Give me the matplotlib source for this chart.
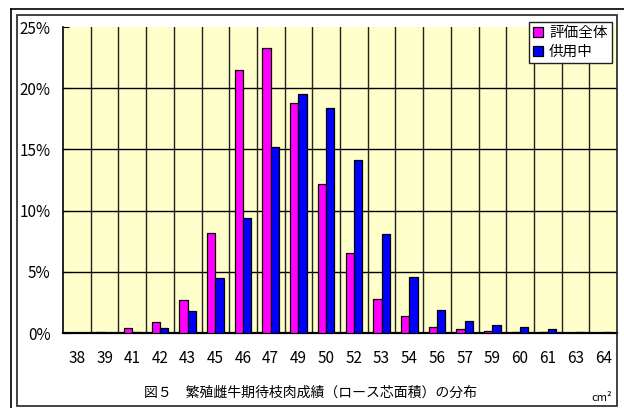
import numpy as np
import matplotlib
matplotlib.use("Agg")
import matplotlib.pyplot as plt
from matplotlib.patches import Rectangle
from matplotlib.lines import Line2D

plt.rcParams['font.family'] = ['Noto Sans CJK JP', 'DejaVu Sans']

# categories (rib-eye area, cm2) and shares (%)
categories = ["38", "39", "41", "42", "43", "45", "46", "47", "49", "50",
              "52", "53", "54", "56", "57", "59", "60", "61", "63", "64"]
all_evaluated = [0.0, 0.1, 0.4, 0.9, 2.7, 8.2, 21.5, 23.3, 18.8, 12.2,
                 6.5, 2.8, 1.4, 0.5, 0.3, 0.2, 0.1, 0.1, 0.0, 0.0]
in_service = [0.0, 0.0, 0.1, 0.4, 1.8, 4.5, 9.4, 15.2, 19.5, 18.4,
              14.1, 8.1, 4.6, 1.9, 1.0, 0.65, 0.5, 0.3, 0.1, 0.1]
series_names = ["評価全体", "供用中"]
y_ticks = [0, 5, 10, 15, 20, 25]
title = "図５　繁殖雌牛期待枝肉成績（ロース芯面積）の分布"
unit = "cm²"

W, H = 624, 408
fig = plt.figure(figsize=(W / 100, H / 100), dpi=100)

# page frame lines (top and left) and chart area border
fig.add_artist(Line2D([11 / W, 1.0], [1 - 9 / H, 1 - 9 / H], color="black", lw=1.2))
fig.add_artist(Line2D([11 / W, 11 / W], [0, 1 - 9 / H], color="black", lw=1.2))
fig.add_artist(Rectangle((17 / W, 2 / H), 600 / W, (406 - 15) / H,
                         fill=False, edgecolor="#222222", lw=1.2))

ax = fig.add_axes([63 / W, 1 - 333 / H, (617 - 63) / W, (333 - 27) / H])
ax.set_facecolor("#FFFFCC")

x = np.arange(len(categories))
w = 0.3
ax.bar(x - w / 2, all_evaluated, w, color="#FF00FF", edgecolor="black",
       lw=0.9, label=series_names[0], zorder=3)
ax.bar(x + w / 2, in_service, w, color="#0000FF", edgecolor="black",
       lw=0.9, label=series_names[1], zorder=3)

ax.set_xlim(-0.5, len(categories) - 0.5)
ax.set_ylim(0, 25)

# gridlines
for yv in y_ticks[1:-1]:
    ax.axhline(yv, color="black", lw=1.0, zorder=1)
for xv in x[:-1] + 0.5:
    ax.axvline(xv, color="#222222", lw=1.0, zorder=1)

for s in ["top", "right"]:
    ax.spines[s].set_visible(False)
ax.spines["left"].set_linewidth(1.2)
ax.spines["bottom"].set_linewidth(1.6)

ax.set_yticks(y_ticks)
ax.set_yticklabels([f"{v}%" for v in y_ticks])
ax.tick_params(axis="y", direction="in", length=4, pad=9, labelsize=11)
ax.set_xticks(x)
ax.set_xticklabels(categories)
ax.tick_params(axis="x", length=0, pad=12, labelsize=11)

leg = ax.legend(loc="upper right", bbox_to_anchor=(612 / W, 1 - 22 / H),
                bbox_transform=fig.transFigure, fontsize=10.5, frameon=True,
                fancybox=False, framealpha=1, edgecolor="#222222",
                handlelength=0.7, handleheight=0.7, handletextpad=0.4,
                borderpad=0.3, labelspacing=0.3, borderaxespad=0)
leg.get_frame().set_linewidth(1.0)

fig.text(310 / W, 1 - 393 / H, title, ha="center", va="center", fontsize=10)
fig.text(612 / W, 1 - 398 / H, unit, ha="right", va="center", fontsize=8)

fig.savefig("out.png", dpi=100)
